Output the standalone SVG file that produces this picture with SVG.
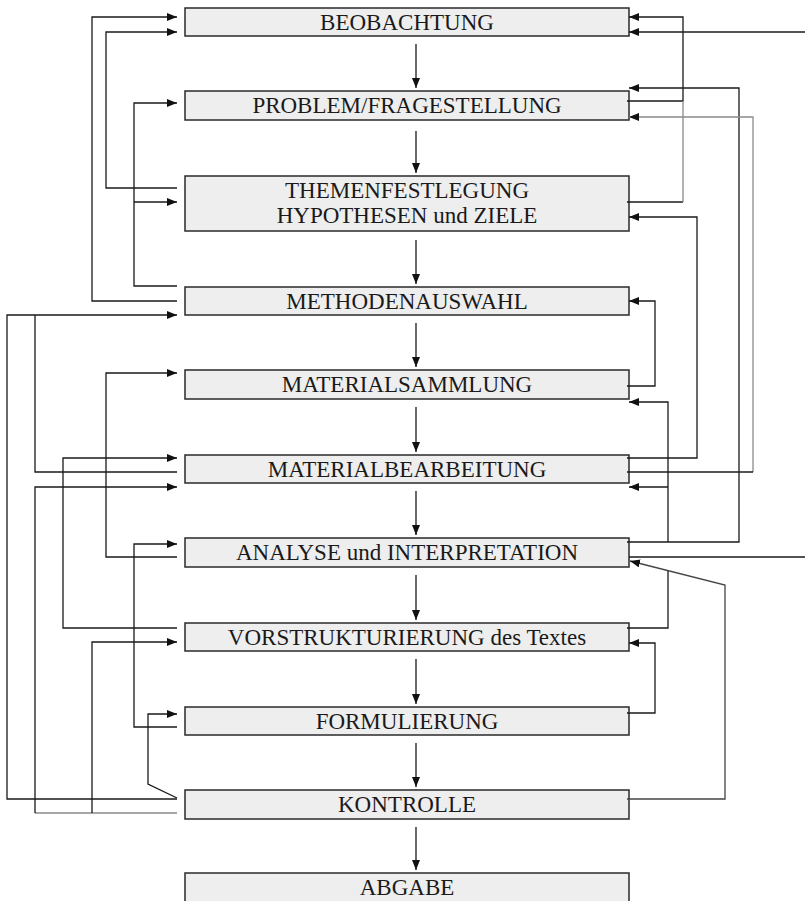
<svg xmlns="http://www.w3.org/2000/svg" width="805" height="901" viewBox="0 0 805 901">
  <defs>
    <marker id="arrow" markerUnits="userSpaceOnUse" markerWidth="11" markerHeight="9" refX="10" refY="4" orient="auto">
      <path d="M0,0 L10,4 L0,8 z" fill="#111"/>
    </marker>
    <style>
      .box rect { fill: #eeeeee; stroke: #2a2a2a; stroke-width: 1.5; }
      .box text { font-size: 23px; fill: #1a1a1a; text-anchor: middle; }
      .conn polyline, .conn line { fill: none; stroke: #1a1a1a; stroke-width: 1.3; }
      .conn .arr { marker-end: url(#arrow); }
      .conn .grey { stroke: #8a8a8a; }
      .conn .dim { stroke: #444; }
    </style>
  </defs>
  <rect width="805" height="901" fill="#ffffff"/>

  <!-- process steps -->
  <g font-family="Liberation Serif, DejaVu Serif, serif">
    <g id="beobachtung" class="box"><rect x="185" y="8" width="444" height="28"/><text x="407" y="30">BEOBACHTUNG</text></g>
    <g id="problem" class="box"><rect x="185" y="91" width="444" height="29"/><text x="407" y="113">PROBLEM/FRAGESTELLUNG</text></g>
    <g id="themen" class="box"><rect x="185" y="176" width="444" height="55"/><text x="407" y="198">THEMENFESTLEGUNG</text><text x="407" y="223">HYPOTHESEN und ZIELE</text></g>
    <g id="methoden" class="box"><rect x="185" y="287" width="444" height="28"/><text x="407" y="309">METHODENAUSWAHL</text></g>
    <g id="materialsammlung" class="box"><rect x="185" y="370" width="444" height="29"/><text x="407" y="392">MATERIALSAMMLUNG</text></g>
    <g id="materialbearbeitung" class="box"><rect x="185" y="455" width="444" height="28"/><text x="407" y="477">MATERIALBEARBEITUNG</text></g>
    <g id="analyse" class="box"><rect x="185" y="538" width="444" height="29"/><text x="407" y="560">ANALYSE und INTERPRETATION</text></g>
    <g id="vorstrukturierung" class="box"><rect x="185" y="623" width="444" height="28"/><text x="407" y="645">VORSTRUKTURIERUNG des Textes</text></g>
    <g id="formulierung" class="box"><rect x="185" y="707" width="444" height="28"/><text x="407" y="729">FORMULIERUNG</text></g>
    <g id="kontrolle" class="box"><rect x="185" y="790" width="444" height="29"/><text x="407" y="812">KONTROLLE</text></g>
    <g id="abgabe" class="box"><rect x="185" y="873" width="444" height="34"/><text x="407" y="895">ABGABE</text></g>
  </g>

  <g id="connectors" class="conn">
    <!-- main sequence -->
    <line class="arr" x1="416" y1="44" x2="416" y2="88"/>
    <line class="arr" x1="416" y1="131" x2="416" y2="173"/>
    <line class="arr" x1="416" y1="240" x2="416" y2="284"/>
    <line class="arr" x1="416" y1="323" x2="416" y2="367"/>
    <line class="arr" x1="416" y1="407" x2="416" y2="452"/>
    <line class="arr" x1="416" y1="491" x2="416" y2="535"/>
    <line class="arr" x1="416" y1="575" x2="416" y2="620"/>
    <line class="arr" x1="416" y1="659" x2="416" y2="704"/>
    <line class="arr" x1="416" y1="743" x2="416" y2="787"/>
    <line class="arr" x1="416" y1="827" x2="416" y2="870"/>

    <!-- left-hand feedback loops -->
    <polyline class="arr" points="177,301 92,301 92,17 177,17"/>
    <polyline class="arr" points="177,188 106,188 106,32 177,32"/>
    <polyline class="arr" points="177,286 134,286 134,103 177,103"/>
    <line class="arr" x1="134" y1="202" x2="177" y2="202"/>
    <polyline class="arr" points="177,799 7,799 7,315 177,315"/>
    <polyline points="177,472 35,472 35,315"/>
    <polyline class="arr" points="177,557 106,557 106,373 177,373"/>
    <polyline class="arr" points="177,628 63,628 63,458 177,458"/>
    <line class="grey" x1="177" y1="813" x2="35" y2="813"/>
    <polyline class="arr" points="35,813 35,487 177,487"/>
    <polyline class="arr" points="92,813 92,642 177,642"/>
    <polyline class="arr" points="177,727 134,727 134,544 177,544"/>
    <polyline class="arr" points="177,798 148,784 148,714 177,714"/>

    <!-- right-hand feedback loops -->
    <polyline class="arr" points="627,101 683,101 683,17 629,17"/>
    <line x1="627" y1="202" x2="683" y2="202"/>
    <line class="grey" x1="683" y1="202" x2="683" y2="101"/>
    <line class="arr" x1="805" y1="32" x2="629" y2="32"/>
    <polyline class="arr" points="627,542 739,542 739,88 629,88"/>
    <polyline class="arr grey" points="753,472 753,117 629,117"/>
    <line x1="627" y1="472" x2="753" y2="472"/>
    <polyline class="arr" points="627,458 697,458 697,217 629,217"/>
    <polyline class="arr" points="627,386 655,386 655,301 629,301"/>
    <polyline class="arr" points="668,542 668,402 629,402"/>
    <line class="arr" x1="668" y1="487" x2="629" y2="487"/>
    <polyline points="627,628 668,628 668,571"/>
    <polyline class="arr" points="627,713 655,713 655,643 629,643"/>
    <polyline class="arr dim" points="627,799 725,799 725,585 630,561"/>
    <line x1="805" y1="557" x2="629" y2="557"/>
  </g>
</svg>
